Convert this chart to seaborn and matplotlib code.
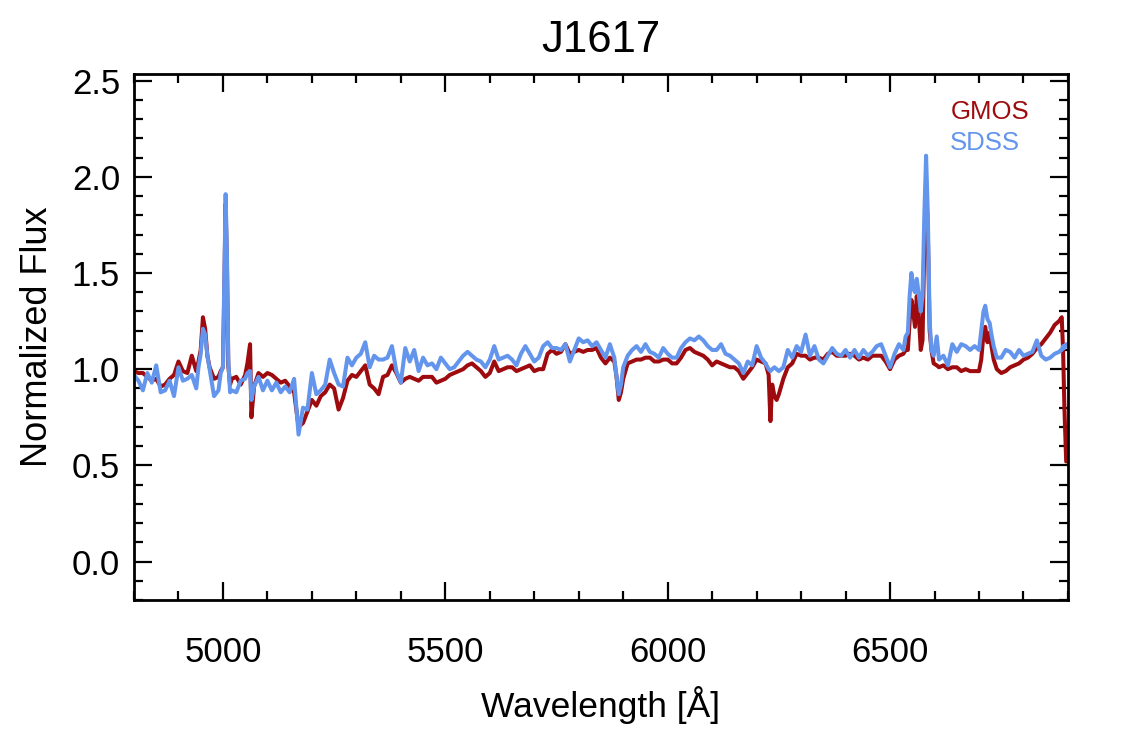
import numpy as np
import pandas as pd
import matplotlib
matplotlib.use("Agg")
import matplotlib.pyplot as plt
from matplotlib.ticker import MultipleLocator, FormatStrFormatter
import seaborn as sns

# ---------------- data ----------------
wavelength = [
    4800, 4810, 4820, 4830, 4840, 4850, 4860, 4870, 4880, 4890,
    4900, 4910, 4920, 4930, 4940, 4945, 4950, 4955, 4960, 4965,
    4970, 4980, 4990, 4995, 5000, 5003, 5006, 5009, 5012, 5016,
    5020, 5030, 5040, 5050, 5055, 5061, 5064, 5070, 5080, 5090,
    5100, 5110, 5120, 5130, 5140, 5150, 5160, 5170, 5180, 5190,
    5200, 5210, 5220, 5230, 5240, 5250, 5260, 5270, 5280, 5290,
    5300, 5310, 5320, 5330, 5340, 5350, 5360, 5370, 5380, 5390,
    5400, 5410, 5420, 5430, 5440, 5450, 5460, 5470, 5480, 5490,
    5500, 5510, 5520, 5530, 5540, 5550, 5560, 5570, 5580, 5590,
    5600, 5610, 5620, 5630, 5640, 5650, 5660, 5670, 5680, 5690,
    5700, 5710, 5720, 5730, 5740, 5750, 5760, 5770, 5780, 5790,
    5800, 5810, 5820, 5830, 5840, 5850, 5860, 5870, 5880, 5885,
    5890, 5895, 5900, 5910, 5920, 5930, 5940, 5950, 5960, 5970,
    5980, 5990, 6000, 6010, 6020, 6030, 6040, 6050, 6060, 6070,
    6080, 6090, 6100, 6110, 6120, 6130, 6140, 6150, 6160, 6170,
    6180, 6190, 6200, 6210, 6220, 6227, 6231, 6235, 6240, 6245,
    6250, 6260, 6270, 6280, 6290, 6300, 6310, 6320, 6330, 6340,
    6350, 6360, 6370, 6380, 6390, 6400, 6410, 6420, 6430, 6440,
    6450, 6460, 6470, 6480, 6490, 6500, 6510, 6520, 6530, 6535,
    6540, 6544, 6548, 6552, 6556, 6560, 6564, 6569, 6573, 6577,
    6581, 6585, 6589, 6593, 6598, 6605, 6610, 6620, 6630, 6640,
    6650, 6660, 6670, 6680, 6690, 6700, 6705, 6710, 6714, 6719,
    6724, 6728, 6733, 6740, 6750, 6760, 6770, 6780, 6790, 6800,
    6810, 6820, 6830, 6840, 6850, 6860, 6870, 6880, 6886, 6889,
    6892, 6896,
]

gmos_flux = [
    0.99, 0.98, 0.98, 0.96, 0.94, 0.95, 0.91, 0.92, 0.95, 0.97,
    1.04, 0.99, 0.98, 1.07, 0.99, 1.04, 1.10, 1.27, 1.21, 1.07,
    1.01, 0.95, 0.96, 0.99, 1.01, 1.40, 1.86, 1.55, 1.02, 0.92,
    0.95, 0.96, 0.92, 0.97, 1.03, 1.13, 0.75, 0.91, 0.98, 0.96,
    0.98, 0.97, 0.95, 0.93, 0.94, 0.91, 0.88, 0.70, 0.72, 0.78,
    0.84, 0.81, 0.86, 0.88, 0.92, 0.90, 0.79, 0.85, 0.94, 0.97,
    0.96, 0.99, 1.02, 0.92, 0.90, 0.87, 0.96, 0.97, 1.02, 0.98,
    0.93, 0.95, 0.96, 0.95, 0.94, 0.96, 0.96, 0.96, 0.93, 0.94,
    0.95, 0.97, 0.98, 0.99, 1.00, 1.02, 1.03, 1.01, 0.99, 0.96,
    0.98, 1.04, 0.99, 1.00, 1.01, 1.01, 0.99, 1.00, 1.01, 1.02,
    0.99, 1.00, 1.00, 1.08, 1.10, 1.08, 1.09, 1.13, 1.08, 1.09,
    1.10, 1.09, 1.10, 1.10, 1.11, 1.06, 1.03, 1.06, 1.04, 0.96,
    0.84, 0.88, 0.95, 1.03, 1.04, 1.05, 1.05, 1.06, 1.06, 1.04,
    1.04, 1.05, 1.05, 1.03, 1.03, 1.06, 1.10, 1.11, 1.09, 1.08,
    1.07, 1.05, 1.02, 1.04, 1.03, 1.02, 1.01, 1.01, 0.99, 0.95,
    0.98, 1.01, 1.05, 1.04, 1.03, 0.97, 0.73, 0.92, 0.86, 0.84,
    0.87, 0.95, 1.01, 1.03, 1.08, 1.07, 1.07, 1.05, 1.06, 1.06,
    1.05, 1.08, 1.09, 1.07, 1.07, 1.07, 1.08, 1.07, 1.05, 1.06,
    1.05, 1.07, 1.07, 1.07, 1.04, 1.00, 1.05, 1.07, 1.08, 1.10,
    1.10, 1.25, 1.36, 1.30, 1.22, 1.38, 1.30, 1.10, 1.15, 1.65,
    1.98, 1.70, 1.20, 1.10, 1.03, 1.02, 1.01, 1.02, 1.00, 1.01,
    1.01, 0.99, 1.00, 0.99, 0.99, 0.99, 1.05, 1.18, 1.22, 1.14,
    1.19, 1.12, 1.05, 1.00, 0.98, 0.99, 1.01, 1.02, 1.03, 1.05,
    1.06, 1.08, 1.11, 1.13, 1.16, 1.19, 1.23, 1.25, 1.27, 1.10,
    0.80, 0.52,
]

sdss_flux = [
    0.97, 0.94, 0.89, 0.98, 0.93, 1.02, 0.88, 0.89, 0.94, 0.86,
    1.01, 0.94, 0.95, 0.97, 0.90, 1.01, 1.08, 1.21, 1.18, 1.07,
    1.00, 0.86, 0.89, 0.98, 1.01, 1.45, 1.91, 1.60, 1.05, 0.88,
    0.89, 0.88, 0.94, 0.95, 0.98, 0.99, 0.84, 0.91, 0.96, 0.89,
    0.94, 0.89, 0.93, 0.88, 0.91, 0.88, 0.95, 0.66, 0.80, 0.79,
    0.98, 0.87, 0.89, 0.92, 1.05, 0.98, 0.92, 0.91, 1.06, 1.02,
    1.06, 1.08, 1.14, 1.01, 1.07, 1.05, 1.05, 1.06, 1.12, 0.99,
    0.93, 1.11, 1.04, 1.10, 0.99, 1.06, 1.02, 1.03, 1.00, 1.06,
    1.03, 1.00, 1.01, 1.04, 1.07, 1.09, 1.07, 1.05, 1.04, 1.01,
    1.05, 1.12, 1.05, 1.06, 1.07, 1.05, 1.02, 1.08, 1.12, 1.08,
    1.04, 1.06, 1.12, 1.14, 1.11, 1.11, 1.10, 1.13, 1.04, 1.10,
    1.16, 1.14, 1.15, 1.12, 1.14, 1.10, 1.06, 1.13, 1.06, 0.96,
    0.87, 0.92, 1.01, 1.07, 1.10, 1.12, 1.09, 1.13, 1.09, 1.08,
    1.06, 1.11, 1.08, 1.06, 1.06, 1.11, 1.14, 1.16, 1.15, 1.17,
    1.15, 1.12, 1.10, 1.10, 1.13, 1.08, 1.07, 1.05, 1.03, 0.98,
    1.04, 1.02, 1.12, 1.06, 1.03, 1.00, 0.99, 1.00, 1.01, 1.00,
    0.99, 1.01, 1.10, 1.06, 1.12, 1.09, 1.18, 1.07, 1.12, 1.05,
    1.03, 1.07, 1.11, 1.08, 1.07, 1.10, 1.06, 1.10, 1.06, 1.10,
    1.07, 1.09, 1.12, 1.13, 1.07, 1.01, 1.08, 1.13, 1.10, 1.17,
    1.19, 1.38, 1.50, 1.42, 1.40, 1.47, 1.40, 1.30, 1.38, 1.80,
    2.11, 1.80, 1.25, 1.10, 1.07, 1.17, 1.05, 1.07, 1.02, 1.13,
    1.09, 1.13, 1.12, 1.10, 1.12, 1.10, 1.20, 1.30, 1.33, 1.26,
    1.24, 1.18, 1.12, 1.06, 1.06, 1.10, 1.09, 1.06, 1.10, 1.07,
    1.08, 1.09, 1.15, 1.07, 1.05, 1.06, 1.08, 1.09, 1.10, 1.12,
    1.11, 1.13,
]

series_names = ["GMOS", "SDSS"]
series_colors = ["#9e0b0f", "#6495ed"]
title_text = "J1617"
x_label = "Wavelength [Å]"
y_label = "Normalized Flux"

# ---------------- figure ----------------
sns.set_style("white")
plt.rcParams["font.family"] = ["Liberation Sans", "DejaVu Sans"]
plt.rcParams["text.color"] = "black"
plt.rcParams["axes.labelcolor"] = "black"
plt.rcParams["xtick.color"] = "black"
plt.rcParams["ytick.color"] = "black"

df = pd.concat([
    pd.DataFrame({"wave": wavelength, "flux": gmos_flux, "src": series_names[0]}),
    pd.DataFrame({"wave": wavelength, "flux": sdss_flux, "src": series_names[1]}),
], ignore_index=True)

fig = plt.figure(figsize=(11.25, 7.5), dpi=100)
ax = fig.add_axes([0.1191, 0.2, 0.9493 - 0.1191, 0.9009 - 0.2])

sns.lineplot(data=df, x="wave", y="flux", hue="src",
             palette=dict(zip(series_names, series_colors)),
             estimator=None, sort=False, linewidth=2.9, legend=False, ax=ax)

ax.set_xlim(4800, 6900)
ax.set_ylim(-0.2, 2.533)

ax.xaxis.set_major_locator(MultipleLocator(500))
ax.xaxis.set_minor_locator(MultipleLocator(100))
ax.yaxis.set_major_locator(MultipleLocator(0.5))
ax.yaxis.set_minor_locator(MultipleLocator(0.1))
ax.yaxis.set_major_formatter(FormatStrFormatter("%.1f"))

ax.tick_params(which="both", direction="in", top=True, right=True,
               bottom=True, left=True, width=1.6, colors="black")
ax.tick_params(which="major", length=13, labelsize=25)
ax.tick_params(which="minor", length=6.5)
ax.tick_params(axis="x", which="major", pad=26)
ax.tick_params(axis="y", which="major", pad=10)

for sp in ax.spines.values():
    sp.set_linewidth(2.0)
    sp.set_color("black")

ax.set_xlabel(x_label, fontsize=25.5, labelpad=12)
ax.set_ylabel(y_label, fontsize=26, labelpad=12)
ax.set_title(title_text, fontsize=31.5, pad=16, color="black")

ax.text(0.874, 0.928, series_names[0], color=series_colors[0], fontsize=18.5,
        transform=ax.transAxes, ha="left", va="center")
ax.text(0.874, 0.869, series_names[1], color=series_colors[1], fontsize=18.5,
        transform=ax.transAxes, ha="left", va="center")

fig.savefig("out.png", dpi=100)
